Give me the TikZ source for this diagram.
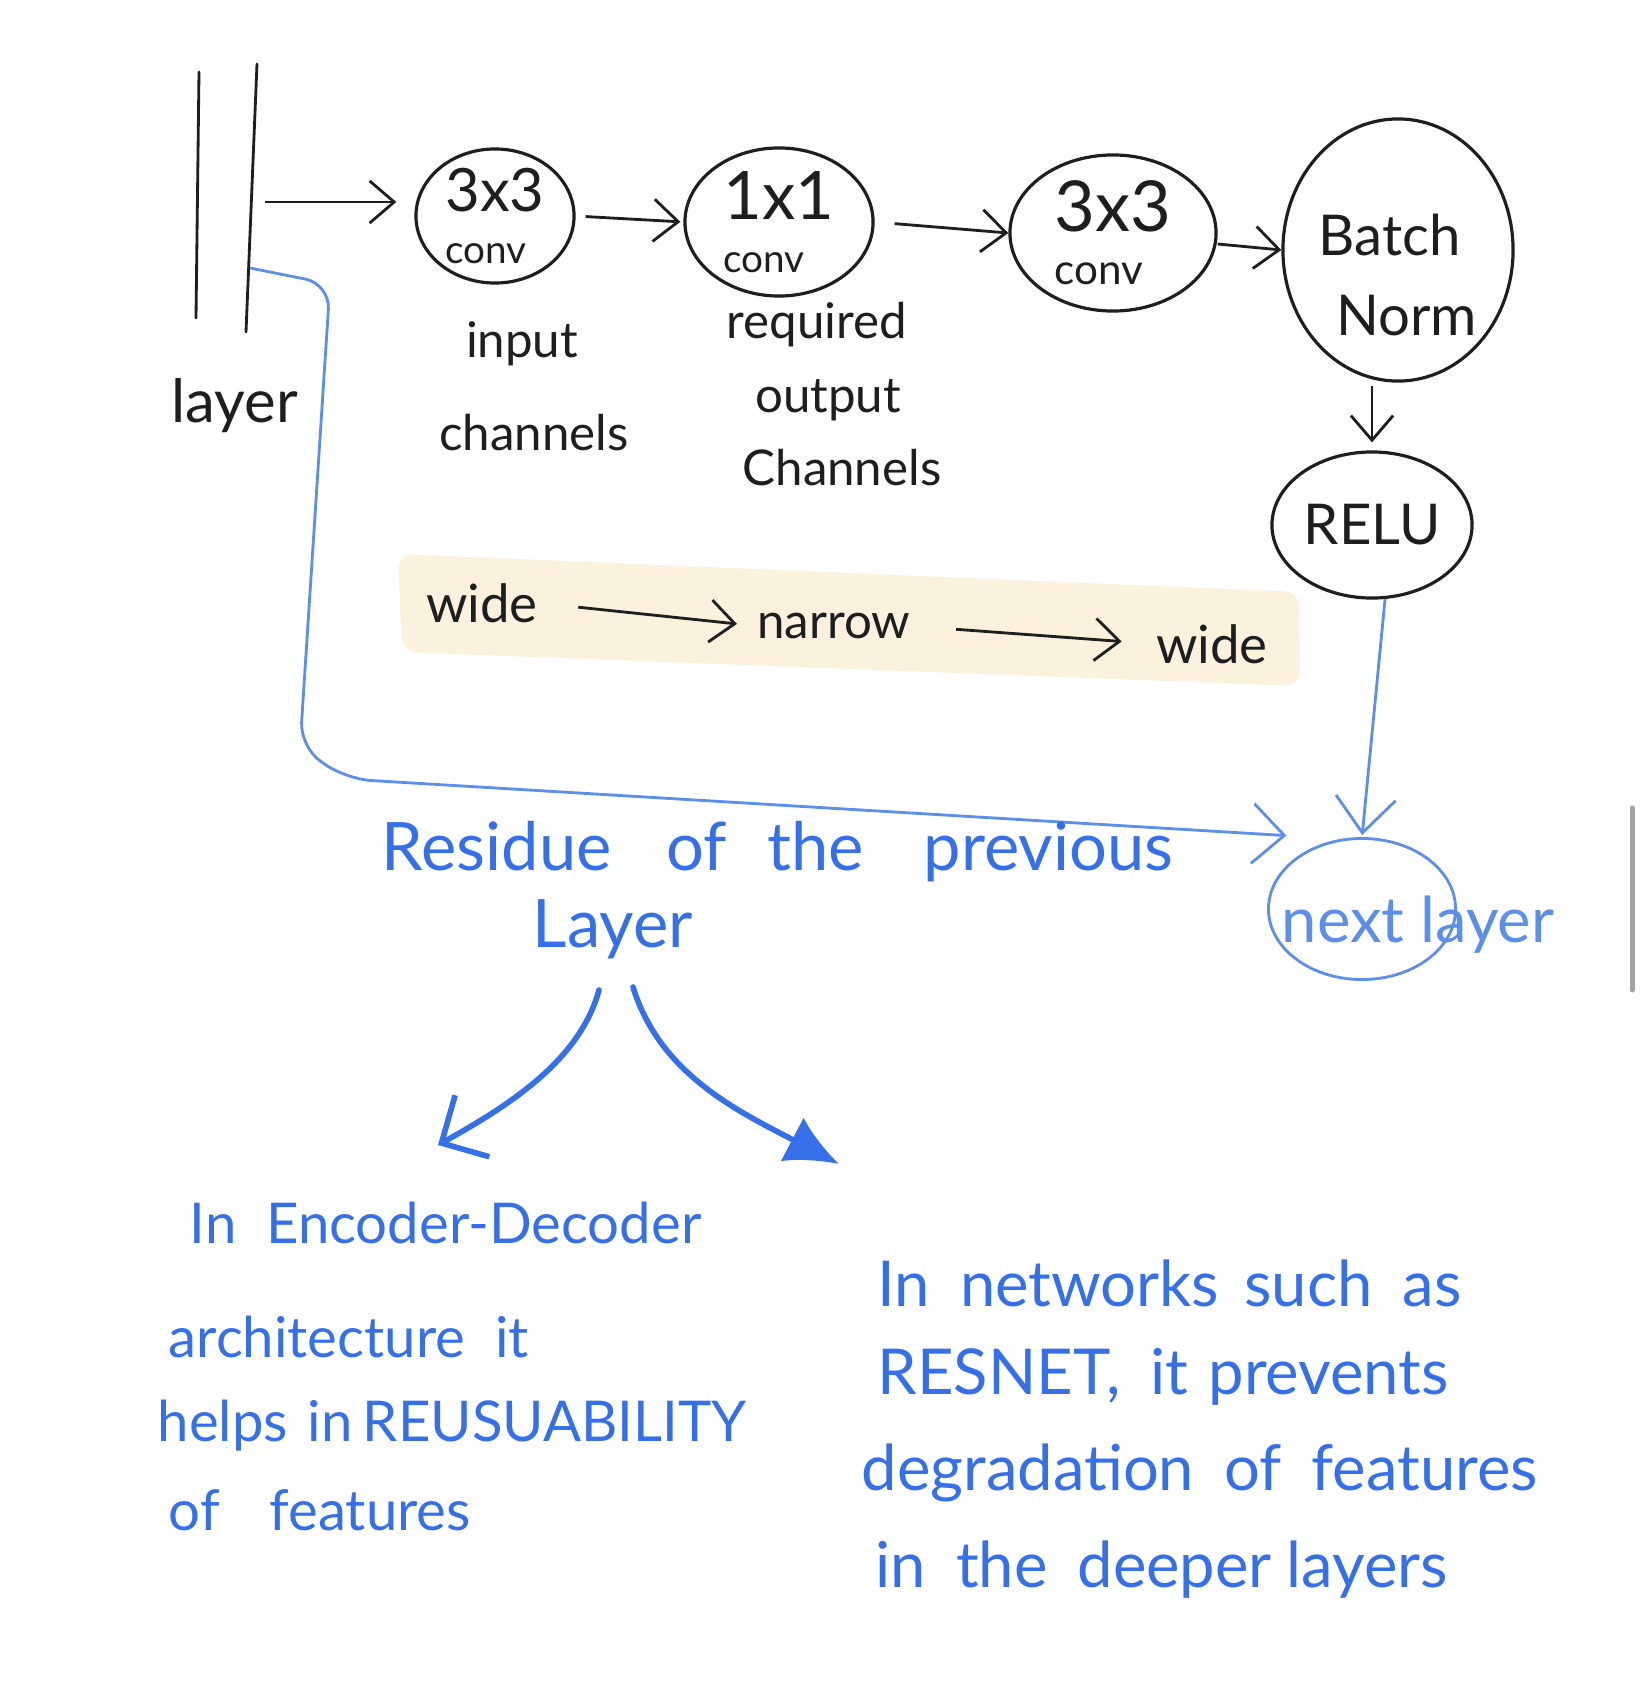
\documentclass[tikz,border=0pt]{standalone}
\usepackage{fontspec}
\setmainfont{Lato}
\usetikzlibrary{shapes.geometric,arrows.meta,calc}
\definecolor{ink}{HTML}{1E1E1E}
\definecolor{pen}{HTML}{3570E8}
\definecolor{penlight}{HTML}{5B8FEA}
\definecolor{hl}{HTML}{FCF1DC}
\definecolor{scrollgray}{HTML}{A3A3A3}
\begin{document}
\begin{tikzpicture}[x=0.01cm,y=-0.01cm,
  blk/.style={draw=ink, line width=0.8pt, line cap=round},
  opbox/.style={ellipse, draw=ink, line width=0.9pt, inner sep=0pt},
  optext/.style={text=ink, align=left, inner sep=0pt},
  flow/.style={draw=ink, line width=0.8pt, -{Straight Barb[length=7pt,width=12pt]}},
  inktext/.style={text=ink, inner sep=0pt, font=\fontsize{14}{16}\selectfont},
  bluetext/.style={text=pen, anchor=west, inner sep=0pt},
  bluearrow/.style={draw=pen, line width=1.6pt, line cap=round},
]
\fill[white] (0,0) rectangle (1641,1697);
\useasboundingbox (0,0) rectangle (1641,1697);

% highlight band
\fill[hl, rounded corners=0.15cm] (398,554) -- (1299,592) -- (1300,686) -- (402,652) -- cycle;

% layer bars
\coordinate (L1a) at (199,72);
\coordinate (L1b) at (196,318);
\coordinate (L2a) at (257,64);
\coordinate (L2b) at (246,332);
\draw[blk] (L1a) -- (L1b);
\draw[blk] (L2a) -- (L2b);
\coordinate (L2m) at (252,202);
\coordinate (R0) at (250,268);
\node[inktext, font=\fontsize{17}{20}\selectfont] (layer) at (235,406) {layer};

% operation ellipses
\node[opbox, minimum width=1.58cm, minimum height=1.34cm,
  label={[optext]center:{\fontsize{17}{17}\selectfont 3x3\\[3pt]\fontsize{11}{11}\selectfont conv}}] (c1) at (495,216) {};
\node[opbox, minimum width=1.88cm, minimum height=1.48cm,
  label={[optext]center:{\fontsize{19}{19}\selectfont 1x1\\[3pt]\fontsize{11}{11}\selectfont conv}}] (c2) at (779,222) {};
\node[opbox, minimum width=2.06cm, minimum height=1.56cm,
  label={[optext]center:{\fontsize{20}{20}\selectfont 3x3\\[3pt]\fontsize{12}{12}\selectfont conv}}] (c3) at (1113,233) {};
\node[opbox, minimum width=2.30cm, minimum height=2.62cm,
  label={[optext, font=\fontsize{16}{23}\selectfont, yshift=-0.25cm]center:{Batch\\\hspace*{5pt}Norm}}] (bn) at (1398,250) {};
\node[opbox, minimum width=2.00cm, minimum height=1.46cm,
  label={[optext, font=\fontsize{16}{18}\selectfont]center:{RELU}}] (relu) at (1372,525) {};
\node[ellipse, draw=penlight, line width=0.8pt, inner sep=0pt,
  minimum width=1.87cm, minimum height=1.41cm] (nl) at (1362,909) {};
\node[text=penlight, inner sep=0pt, font=\fontsize{18}{20}\selectfont] (nltext) at (1418,925) {next layer};

% captions
\node[inktext] (inp) at (522,344) {input};
\node[inktext] (chan) at (534,433) {channels};
\node[inktext] (req) at (817,325) {required};
\node[inktext] (outp) at (828,400) {output};
\node[inktext] (chan2) at (842,468) {Channels};

% main flow
\draw[flow, shorten <=0.13cm, shorten >=0.18cm] (L2m) -- (L2m -| c1.west);
\draw[flow, shorten <=0.1cm, shorten >=0.03cm] (c1.east) -- (c2.west);
\draw[flow, shorten <=0.2cm, shorten >=0.0cm] (c2.east) -- (c3.west);
\draw[flow, shorten <=0.0cm, shorten >=0.0cm] ([yshift=-0.11cm]c3.east) -- (bn.west);
\draw[flow, shorten <=0.03cm, shorten >=0.08cm] (relu.north |- bn.south) -- (relu.north);

% wide -> narrow -> wide
\node[inktext, font=\fontsize{15}{18}\selectfont] (w1) at (482,603) {wide};
\node[inktext, font=\fontsize{14}{18}\selectfont] (nar) at (834,626) {narrow};
\node[inktext, font=\fontsize{15}{18}\selectfont] (w2) at (1212,644) {wide};
\draw[flow, shorten <=0.4cm, shorten >=0.2cm] (w1.east) -- (nar.west);
\draw[flow, shorten <=0.45cm, shorten >=0.34cm] (nar.east) -- (w2.west);

% residual connection
\draw[penlight, line width=0.8pt, rounded corners=0.25cm,
  -{Straight Barb[length=9pt,width=17pt]}]
  (R0) -- (330,284) -- (300,747) -- (346,779) -- ([shift={(-0.12cm,0.2cm)}]nl.140);
\draw[penlight, line width=0.8pt, shorten >=0.02cm,
  -{Straight Barb[length=10pt,width=17pt]}] (relu.-80) -- (nl.north);

% residue text
\node[bluetext, font=\fontsize{19}{22}\selectfont] (res) at (381,852)
  {Residue\hspace{0.55cm}of\hspace{0.4cm}the\hspace{0.6cm}previous};
\node[bluetext, font=\fontsize{19}{22}\selectfont] (lay) at (532,929) {Layer};

\coordinate (s1) at (599,990);
\coordinate (s2) at (633,987);
\coordinate (e1) at (438,1145);
\coordinate (e2) at (839,1164);
\draw[bluearrow, -{Straight Barb[length=10pt,width=20pt]}]
  (s1) .. controls (580,1060) and (510,1105) .. (e1);
\draw[bluearrow, -{Latex[length=15pt,width=14pt]}]
  (s2) .. controls (660,1075) and (740,1112) .. (e2);

% left paragraph
\node[bluetext, font=\fontsize{16}{19}\selectfont] (lp1) at (189,1223) {In\hspace{0.3cm}Encoder-Decoder};
\node[bluetext, font=\fontsize{16}{19}\selectfont] (lp2) at (168,1337) {architecture\hspace{0.3cm}it};
\node[bluetext, font=\fontsize{16}{19}\selectfont] (lp3) at (157,1426) {helps\hspace{0.2cm}in\hspace{0.1cm}REUSUABILITY};
\node[bluetext, font=\fontsize{16}{19}\selectfont] (lp4) at (168,1510) {of\hspace{0.5cm}features};

% right paragraph
\node[bluetext, font=\fontsize{18}{21}\selectfont] (rp1) at (877,1283) {In\hspace{0.3cm}networks\hspace{0.25cm}such\hspace{0.3cm}as};
\node[bluetext, font=\fontsize{18}{21}\selectfont] (rp2) at (877,1377) {RESNET,\hspace{0.3cm}it\hspace{0.2cm}prevents};
\node[bluetext, font=\fontsize{18}{21}\selectfont] (rp3) at (861,1473) {degradation\hspace{0.3cm}of\hspace{0.3cm}features};
\node[bluetext, font=\fontsize{18}{21}\selectfont] (rp4) at (875,1570) {in\hspace{0.3cm}the\hspace{0.3cm}deeper\hspace{0.15cm}layers};

% scrollbar
\draw[scrollgray, line width=0.05cm, line cap=round] (1632,808) -- (1632,990);
\end{tikzpicture}
\end{document}
